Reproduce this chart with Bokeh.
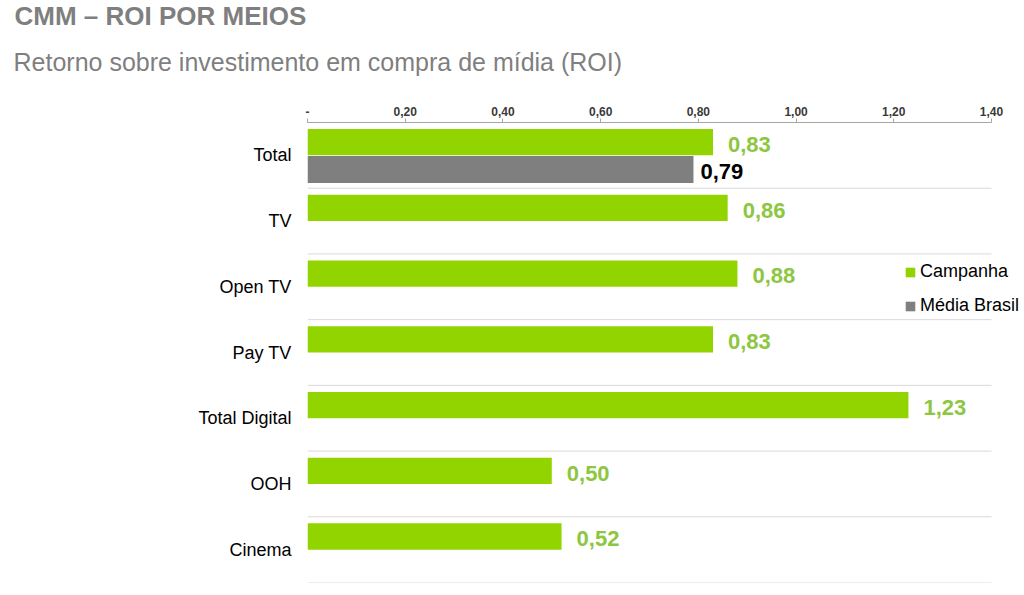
from bokeh.plotting import figure
from bokeh.models import (FactorRange, Range1d, FixedTicker, ColumnDataSource,
                          Legend, LegendItem, Title)
from bokeh.transform import dodge
from bokeh.embed import file_html
from bokeh.resources import INLINE
from bokeh.core.properties import value

# ---------------- data ----------------
categories = ["Total", "TV", "Open TV", "Pay TV", "Total Digital", "OOH", "Cinema"]
campanha = [0.83, 0.86, 0.88, 0.83, 1.23, 0.50, 0.52]
media_categories = ["Total"]
media_brasil = [0.79]
x_ticks = [0.0, 0.2, 0.4, 0.6, 0.8, 1.0, 1.2, 1.4]
x_tick_labels = ["-", "0,20", "0,40", "0,60", "0,80", "1,00", "1,20", "1,40"]
series_names = ["Campanha", "Média Brasil"]
title_text = "CMM – ROI POR MEIOS"
subtitle_text = "Retorno sobre investimento em compra de mídia (ROI)"

GREEN = "#92D400"
GREEN_TXT = "#8DC63F"
GRAY = "#7F7F7F"
FONT = "Liberation Sans"

W, H = 1024, 595
FRAME_LEFT = 307
AXIS_RIGHT_PX = 991  # pixel where the axis ends (value 1.40)


def fmt(v):
    return f"{v:.2f}".replace(".", ",")


src_c = ColumnDataSource(dict(cat=categories, val=campanha,
                              lbl=[fmt(v) for v in campanha]))
src_m = ColumnDataSource(dict(cat=media_categories, val=media_brasil,
                              lbl=[fmt(v) for v in media_brasil]))
src_grid = ColumnDataSource(dict(cat=categories,
                                 x0=[x_ticks[0]] * len(categories),
                                 x1=[x_ticks[-1]] * len(categories)))

# frame extends to the right edge so the legend fits inside it
x_end = x_ticks[-1] * (W - FRAME_LEFT) / (AXIS_RIGHT_PX - FRAME_LEFT)

p = figure(width=W, height=H,
           y_range=FactorRange(factors=categories[::-1]),
           x_range=Range1d(x_ticks[0], x_end),
           x_axis_location="above",
           output_backend="svg", toolbar_location=None,
           min_border_left=FRAME_LEFT, min_border_right=0,
           min_border_top=122, min_border_bottom=13)
p.outline_line_color = None
p.background_fill_color = "white"
p.border_fill_color = "white"
p.xgrid.grid_line_color = None
p.ygrid.grid_line_color = None

# row separators
p.segment(x0="x0", x1="x1",
          y0=dodge("cat", -0.5, range=p.y_range),
          y1=dodge("cat", -0.5, range=p.y_range),
          source=src_grid, line_color="#D9D9D9", line_width=1)

g = p.hbar(y=dodge("cat", 0.2, range=p.y_range), left=0, right="val",
           height=0.4, source=src_c, fill_color=GREEN, line_color=None)
m = p.hbar(y=dodge("cat", -0.215, range=p.y_range), left=0, right="val",
           height=0.41, source=src_m, fill_color=GRAY, line_color=None)

p.text(x="val", y=dodge("cat", 0.165, range=p.y_range), text="lbl", source=src_c,
       x_offset=15, text_baseline="middle", text_align="left",
       text_font=value(FONT), text_font_style="bold", text_font_size="22px",
       text_color=GREEN_TXT)
p.text(x="val", y=dodge("cat", -0.24, range=p.y_range), text="lbl", source=src_m,
       x_offset=7, text_baseline="middle", text_align="left",
       text_font=value(FONT), text_font_style="bold", text_font_size="22px",
       text_color="#000000")

# x axis (top)
xa = p.xaxis[0]
xa.ticker = FixedTicker(ticks=x_ticks)
xa.bounds = (x_ticks[0], x_ticks[-1])
xa.major_label_overrides = {t: l for t, l in zip(x_ticks, x_tick_labels)}
xa.axis_line_color = "#A6A6A6"
xa.major_tick_line_color = "#A6A6A6"
xa.major_tick_out = 4
xa.major_tick_in = 0
xa.minor_tick_line_color = None
xa.minor_tick_out = 0
xa.major_label_text_font = FONT
xa.major_label_text_font_style = "bold"
xa.major_label_text_font_size = "12px"
xa.major_label_text_color = "#3A3A3A"
xa.major_label_standoff = 3

# y axis
ya = p.yaxis[0]
ya.axis_line_color = None
ya.major_tick_line_color = None
ya.minor_tick_line_color = None
ya.major_tick_out = 0
ya.major_tick_in = 0
ya.major_label_text_font = FONT
ya.major_label_text_font_size = "18px"
ya.major_label_text_color = "#000000"
ya.major_label_standoff = 16

legend = Legend(items=[LegendItem(label=series_names[0], renderers=[g]),
                       LegendItem(label=series_names[1], renderers=[m])],
                location=(597, 266), padding=0, margin=0,
                border_line_alpha=0, background_fill_alpha=0,
                glyph_width=12, glyph_height=12, label_standoff=4,
                spacing=13, label_height=20,
                label_text_font=FONT, label_text_font_size="18px",
                label_text_color="#000000")
p.add_layout(legend)

# titles stacked above the axis (first added = closest to the plot)
p.add_layout(Title(text=" ", text_font_size="3px", standoff=6), "above")
p.add_layout(Title(text=subtitle_text, align="left", offset=-294,
                   vertical_align="top", standoff=30,
                   text_font=FONT, text_font_style="normal",
                   text_font_size="25px", text_color=GRAY), "above")
p.add_layout(Title(text=title_text, align="left", offset=-293,
                   vertical_align="top", standoff=0,
                   text_font=FONT, text_font_style="bold",
                   text_font_size="26px", text_color=GRAY), "above")

open("out.html", "w").write(file_html(p, INLINE))
